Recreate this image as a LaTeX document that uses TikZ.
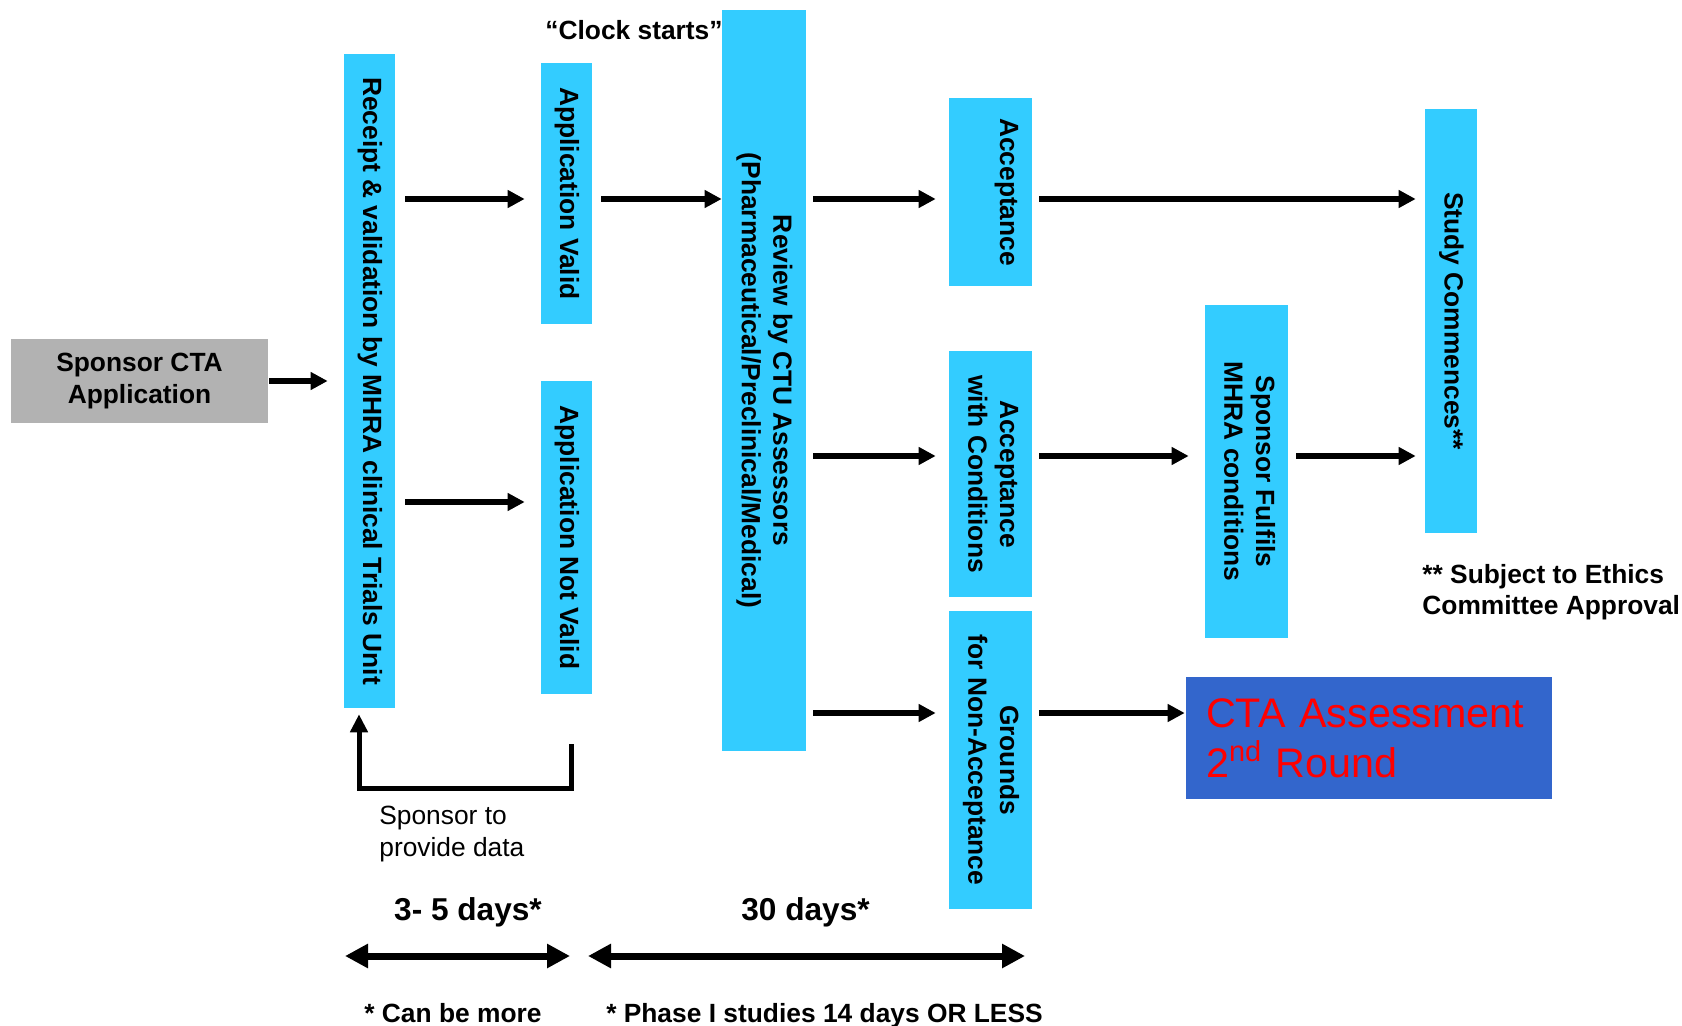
\documentclass[tikz,border=0pt]{standalone}
\usepackage{fontspec}
\setmainfont{Liberation Sans}
\usepackage{graphicx}
\usetikzlibrary{arrows.meta}
\usetikzlibrary{calc}
\usetikzlibrary{positioning}

\definecolor{barcyan}{HTML}{33CCFF}
\definecolor{ctablue}{HTML}{3366CC}
\definecolor{boxgrey}{HTML}{B2B2B2}

\newcommand{\vtext}[1]{\rotatebox{-90}{\begin{tabular}{@{}c@{}}#1\end{tabular}}}

\begin{document}
\begin{tikzpicture}[x=0.02cm,y=-0.02cm,
    note/.style={inner sep=0pt,font=\fontsize{15}{18}\selectfont\bfseries},
    bar/.style={fill=barcyan,inner sep=0pt,font=\fontsize{15}{18}\selectfont\bfseries},
    flow/.style={line width=0.12cm,-{Triangle[length=0.34cm,width=0.34cm]}},
    span/.style={line width=0.14cm,{Triangle[length=0.46cm,width=0.46cm]}-{Triangle[length=0.46cm,width=0.46cm]}}]

  \useasboundingbox (0,0) rectangle (1682,1026);

  \node [fill=boxgrey,inner sep=0pt,minimum width=5.14cm,minimum height=1.68cm,align=center,
    font=\fontsize{15}{18}\selectfont\bfseries] (sponsor) at (139.5,381) {Sponsor CTA\\Application};

  \node [bar,minimum width=1.02cm,minimum height=13.08cm] (recv) at (369.5,381) {\vtext{Receipt \& validation by MHRA clinical Trials Unit}};
  \node [bar,minimum width=1.02cm,minimum height=5.22cm] (valid) at (566.5,193.5) {\vtext{Application Valid}};
  \node [bar,minimum width=1.02cm,minimum height=6.26cm] (notvalid) at (566.5,537.5) {\vtext{Application Not Valid}};
  \node [bar,minimum width=1.68cm,minimum height=14.82cm] (review) at (764,380.5) {\vtext{Review by CTU Assessors\\(Pharmaceutical/Preclinical/Medical)}};
  \node [bar,minimum width=1.66cm,minimum height=3.76cm] (accept) at (990.5,192) {\vtext{Acceptance\\\mbox{}}};
  \node [bar,minimum width=1.66cm,minimum height=4.92cm] (acccond) at (990.5,474) {\vtext{Acceptance\\with Conditions}};
  \node [bar,minimum width=1.66cm,minimum height=5.96cm] (grounds) at (990.5,760) {\vtext{Grounds\\for Non-Acceptance}};
  \node [bar,minimum width=1.66cm,minimum height=6.66cm] (fulfil) at (1246.5,471.5) {\vtext{Sponsor Fulfils\\MHRA conditions}};
  \node [bar,minimum width=1.04cm,minimum height=8.48cm] (study) at (1451,321) {\vtext{Study Commences**}};

  \node [fill=ctablue,text=red,inner xsep=0.4cm,inner ysep=0pt,text width=6.52cm,minimum height=2.44cm,align=left,
    font=\fontsize{23.5}{28.5}\selectfont] (cta) at (1369,738) {CTA Assessment\\2\textsuperscript{nd} Round};

  \node [note] (clock) at (634,30) {``Clock starts''};
  \node [note,anchor=west,align=left,font=\fontsize{15}{18}\selectfont] (provide) at (379,834) {Sponsor to\\provide data};
  \node [note,font=\fontsize{18}{21}\selectfont\bfseries] (short) at (468,912) {3- 5 days*};
  \node [note,font=\fontsize{18}{21}\selectfont\bfseries] (long) at (805.5,912) {30 days*};
  \node [note] (more) at (453,1013) {* Can be more};
  \node [note] (phase) at (824.5,1015.5) {* Phase I studies 14 days OR LESS};
  \node [note,anchor=west,align=left] (ethics) at (1422,592) {** Subject to Ethics\\Committee Approval};

  % arrow rows
  \coordinate (rowa) at (0,199);
  \coordinate (rowb) at (0,502);
  \coordinate (rowc) at (0,456);
  \coordinate (rowd) at (0,713);

  \draw [flow,shorten <=0.02cm,shorten >=0.32cm] (sponsor) -- (recv);
  \draw [flow,shorten <=0.2cm,shorten >=0.32cm] (recv.east |- rowa) -- (valid.west |- rowa);
  \draw [flow,shorten <=0.2cm,shorten >=0.32cm] (recv.east |- rowb) -- (notvalid.west |- rowb);
  \draw [flow,shorten <=0.18cm] (valid.east |- rowa) -- (review.west |- rowa);
  \draw [flow,shorten <=0.14cm,shorten >=0.26cm] (review.east |- rowa) -- (accept.west |- rowa);
  \draw [flow,shorten <=0.14cm,shorten >=0.26cm] (review.east |- rowc) -- (acccond.west |- rowc);
  \draw [flow,shorten <=0.14cm,shorten >=0.26cm] (review.east |- rowd) -- (grounds.west |- rowd);
  \draw [flow,shorten <=0.14cm,shorten >=0.18cm] (accept.east |- rowa) -- (study.west |- rowa);
  \draw [flow,shorten <=0.14cm,shorten >=0.32cm] (acccond.east |- rowc) -- (fulfil.west |- rowc);
  \draw [flow,shorten <=0.16cm,shorten >=0.18cm] (fulfil.east |- rowc) -- (study.west |- rowc);
  \draw [flow,shorten <=0.14cm,shorten >=0.02cm] (grounds.east |- rowd) -- (cta.west |- rowd);

  % back to validation
  \draw [line width=0.1cm,-{Triangle[length=0.36cm,width=0.34cm]}]
    ([shift={(4.5,50)}]notvalid.south) -- ++(0,44) -| ([shift={(-10.5,6)}]recv.south);

  % time spans
  \coordinate (d1) at (345,956);
  \coordinate (d2) at (570,956);
  \coordinate (d3) at (588,956);
  \coordinate (d4) at (1025,956);
  \draw [span] (d1) -- (d2);
  \draw [span] (d3) -- (d4);

\end{tikzpicture}
\end{document}
